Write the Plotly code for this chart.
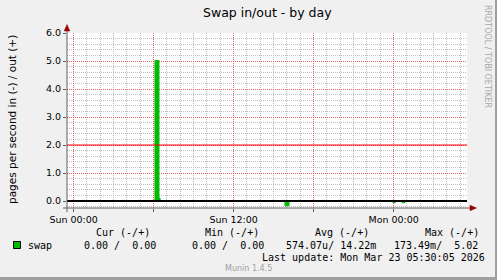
import plotly.graph_objects as go

# ---------------- data ----------------
title = "Swap in/out - by day"
y_title = "pages per second in (-) / out (+)"
x_range = ["2026-03-21 23:30:05", "2026-03-23 05:30:05"]
y_range = [-0.25, 6.0]
y_tick_vals = [0, 1, 2, 3, 4, 5, 6]
x_tick_vals = ["2026-03-22 00:00", "2026-03-22 06:00", "2026-03-22 12:00",
               "2026-03-22 18:00", "2026-03-23 00:00", "2026-03-23 06:00"]
x_tick_text = ["Sun 00:00", "", "Sun 12:00", "", "Mon 00:00", ""]
warning_level = 2.0
zero_level = 0.0

# swap out (+)
out_times = ["2026-03-21 23:30", "2026-03-22 06:06", "2026-03-22 06:24",
             "2026-03-22 06:29", "2026-03-23 05:30"]
out_vals = [0.0, 5.02, 0.10, 0.0, 0.0]

# swap in (-)
in_times = ["2026-03-21 23:30", "2026-03-22 15:51", "2026-03-22 16:09",
            "2026-03-22 23:57", "2026-03-23 00:07", "2026-03-23 00:38",
            "2026-03-23 00:51", "2026-03-23 05:30"]
in_vals = [0.0, -0.1735, 0.0, -0.06, 0.0, -0.06, 0.0, 0.0]

series_name = "swap"
col_headers = ["Cur (-/+)", "Min (-/+)", "Avg (-/+)", "Max (-/+)"]
col_values = ["0.00 /  0.00", "0.00 /  0.00", "574.07u/ 14.22m", "173.49m/  5.02"]
last_update = "Last update: Mon Mar 23 05:30:05 2026"
footer = "Munin 1.4.5"
watermark = "RRDTOOL / TOBI OETIKER"

# ---------------- style / layout ----------------
W, H = 497, 280
L, R, T, B = 67, 467, 33, 208
GREEN = "#00BB00"
SANS = "DejaVu Sans"
MONO = "DejaVu Sans Mono"


def px(x):
    return (x - L) / (R - L)


def py(y):
    return (B - y) / (B - T)


def nb(s):
    return s.replace(" ", "\u00a0")


fig = go.Figure()
fig.add_trace(go.Scatter(x=out_times, y=out_vals, mode="lines", line_shape="hv",
                         fill="tozeroy", fillcolor=GREEN,
                         line=dict(color=GREEN, width=1), showlegend=False,
                         hoverinfo="skip"))
fig.add_trace(go.Scatter(x=in_times, y=in_vals, mode="lines", line_shape="hv",
                         fill="tozeroy", fillcolor=GREEN,
                         line=dict(color=GREEN, width=1), showlegend=False,
                         hoverinfo="skip"))

grid_minor = "#BEBEBE"
grid_major = "rgba(255,40,40,0.6)"
axis_col = "#606060"

fig.update_xaxes(type="date", range=x_range, tickmode="array",
                 tickvals=x_tick_vals, ticktext=x_tick_text,
                 showgrid=True, gridcolor=grid_major, griddash="1px,1px", gridwidth=1,
                 ticks="outside", ticklen=3, tickcolor=axis_col,
                 tickfont=dict(family=SANS, size=9.5, color="#000000"),
                 showline=False, zeroline=False,
                 minor=dict(dtick=3600000, tick0="2026-03-22 00:00", showgrid=True,
                            gridcolor=grid_minor, griddash="1px,1px", gridwidth=1,
                            ticks=""))
fig.update_yaxes(range=y_range, tickmode="array", tickvals=y_tick_vals,
                 tickformat=".1f",
                 showgrid=True, gridcolor=grid_major, griddash="1px,1px", gridwidth=1,
                 ticks="outside", ticklen=3, tickcolor=axis_col,
                 tickfont=dict(family=SANS, size=9.5, color="#000000"),
                 showline=False, zeroline=False,
                 minor=dict(dtick=0.2, tick0=0, showgrid=True,
                            gridcolor=grid_minor, griddash="1px,1px", gridwidth=1,
                            ticks=""))

shapes = []
# zero rule and warning rule
shapes.append(dict(type="line", xref="paper", yref="y", x0=0, x1=1,
                   y0=zero_level, y1=zero_level, line=dict(color="#000000", width=2),
                   layer="above"))
shapes.append(dict(type="line", xref="paper", yref="y", x0=0, x1=1,
                   y0=warning_level, y1=warning_level, line=dict(color="#FF0000", width=1),
                   layer="above"))
# axes lines
shapes.append(dict(type="line", xref="paper", yref="paper", x0=px(67), x1=px(67),
                   y0=py(212), y1=py(29), line=dict(color=axis_col, width=1)))
shapes.append(dict(type="line", xref="paper", yref="paper", x0=px(63), x1=px(471),
                   y0=py(208), y1=py(208), line=dict(color=axis_col, width=1)))
# arrows
arrow_col = "#990000"
shapes.append(dict(type="path", xref="paper", yref="paper",
                   path=f"M {px(67)},{py(24.5)} L {px(64.2)},{py(31)} L {px(69.8)},{py(31)} Z",
                   fillcolor=arrow_col, line=dict(color=arrow_col, width=0.5)))
shapes.append(dict(type="path", xref="paper", yref="paper",
                   path=f"M {px(476.5)},{py(208)} L {px(470)},{py(205.2)} L {px(470)},{py(210.8)} Z",
                   fillcolor=arrow_col, line=dict(color=arrow_col, width=0.5)))
# legend swatch
shapes.append(dict(type="rect", xref="paper", yref="paper",
                   x0=px(13.5), x1=px(20.5), y0=py(248.5), y1=py(241.5),
                   fillcolor=GREEN, line=dict(color="#000000", width=1)))
# frame shading (bottom/right)
shapes.append(dict(type="line", xref="paper", yref="paper", x0=px(496), x1=px(496),
                   y0=py(0), y1=py(280), line=dict(color="#A0A0A0", width=2)))
shapes.append(dict(type="line", xref="paper", yref="paper", x0=px(0), x1=px(497),
                   y0=py(278.5), y1=py(278.5), line=dict(color="#A0A0A0", width=3)))

ann = []


def add_text(text, x, y, size, family, color="#000000", xanchor="left", angle=0):
    ann.append(dict(text=text, x=px(x), y=py(y), xref="paper", yref="paper",
                    xanchor=xanchor, yanchor="middle", showarrow=False,
                    textangle=angle, borderpad=0,
                    font=dict(family=family, size=size, color=color)))


add_text(title, 267.5, 13, 12.5, SANS, xanchor="center")
add_text(y_title, 12, 120, 10.5, SANS, xanchor="center", angle=-90)
add_text(watermark, 488, 56, 8, SANS, color="#A8A8A8", xanchor="center", angle=90)

header_x = [95, 204, 314, 424]
value_x = [83, 191, 285, 393]
for hx, h in zip(header_x, col_headers):
    add_text(nb(h), hx, 232, 10, MONO)
add_text(series_name, 27, 245, 10, MONO)
for vx, v in zip(value_x, col_values):
    add_text(nb(v), vx, 245, 10, MONO)
add_text(nb(last_update), 261, 257, 10, MONO)
add_text(footer, 248.5, 268.5, 8, SANS, color="#A0A0A0", xanchor="center")

fig.update_layout(width=W, height=H,
                  margin=dict(l=L, r=W - R, t=T, b=H - B, pad=0),
                  paper_bgcolor="#F0F0F0", plot_bgcolor="#FFFFFF",
                  shapes=shapes, annotations=ann, showlegend=False,
                  font=dict(family=SANS))

fig.write_html("out.html", config={"displayModeBar": False})
